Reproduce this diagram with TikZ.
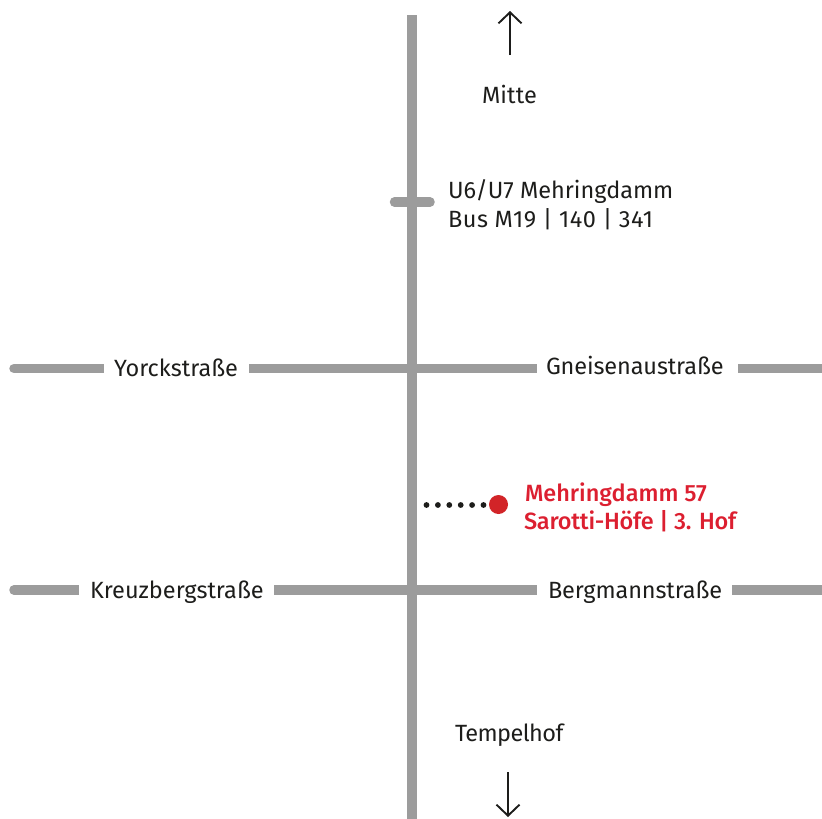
\documentclass[tikz,border=0pt]{standalone}
\usepackage{fontspec}
\setmainfont{Fira Sans}
\newfontfamily\redfont{Fira Sans Medium}
\usetikzlibrary{arrows.meta}
\definecolor{road}{HTML}{9C9C9C}
\definecolor{ink}{HTML}{1D1D1B}
\definecolor{hl}{HTML}{DC1F30}
\definecolor{pin}{HTML}{D22428}
\newcommand{\lsp}[1]{\addfontfeature{LetterSpace=#1}}
\tikzset{
  road/.style={draw=road,line width=9.5pt},
  roadcap/.style={road,line cap=round},
  lbl/.style={anchor=base west,inner sep=0pt,outer sep=0pt,text=ink,font=\fontsize{23.5}{28}\selectfont},
  redlbl/.style={anchor=base west,inner sep=0pt,outer sep=0pt,text=hl,font=\fontsize{23.5}{28}\selectfont\redfont},
  dirarrow/.style={draw=ink,line width=1.9pt,-{Straight Barb[length=11pt,width=23pt,line width=1.9pt]}},
  dotline/.style={draw=ink,line width=5.8pt,line cap=round,dash pattern=on 0pt off 11.4pt},
  pinmark/.style={circle,fill=pin,inner sep=0pt,minimum size=19pt}
}
\begin{document}
\begin{tikzpicture}[x=1pt,y=-1pt]
\useasboundingbox (0,0) rectangle (822,819);
\coordinate (ntop) at (412,15);
\coordinate (nbot) at (412,819);
\coordinate (tl) at (394.5,202);
\coordinate (tr) at (430,202);
\coordinate (y1) at (14,368.5);
\coordinate (y2) at (104,368.5);
\coordinate (y3) at (249,368.5);
\coordinate (y4) at (537,368.5);
\coordinate (y5) at (738,368.5);
\coordinate (y6) at (822,368.5);
\coordinate (k1) at (14,590);
\coordinate (k2) at (79,590);
\coordinate (k3) at (274,590);
\coordinate (k4) at (537,590);
\coordinate (k5) at (732,590);
\coordinate (k6) at (822,590);
\coordinate (au1) at (510,55);
\coordinate (au2) at (510,11);
\coordinate (ad1) at (508,772);
\coordinate (ad2) at (508,817);
\coordinate (d1) at (426.5,505);
\coordinate (d2) at (484,505);
\draw[road] (ntop) -- (nbot);
\draw[roadcap] (tl) -- (tr);
\draw[roadcap] (y1) -- (60,368.5);
\draw[road] (40,368.5) -- (y2);
\draw[road] (y3) -- (y4);
\draw[road] (y5) -- (y6);
\draw[roadcap] (k1) -- (50,590);
\draw[road] (40,590) -- (k2);
\draw[road] (k3) -- (k4);
\draw[road] (k5) -- (k6);
\draw[dirarrow] (au1) -- (au2);
\draw[dirarrow] (ad1) -- (ad2);
\draw[dotline] (d1) -- (d2);
\node[pinmark] (pin) at (498.5,504.5) {};
\node[lbl] (mitte) at (482,103) {\lsp{0.6}Mitte};
\node[lbl] (u6) at (448,198) {U6/U7 Mehringdamm};
\node[lbl] (bus) at (448,227) {\lsp{2.2}Bus M19 | 140 | 341};
\node[lbl] (york) at (114,376) {Yorckstraße};
\node[lbl] (gneis) at (546,374) {\lsp{-0.5}Gneisenaustraße};
\node[lbl] (kreuz) at (90,598) {Kreuzbergstraße};
\node[lbl] (berg) at (548,598) {\lsp{-0.5}Bergmannstraße};
\node[lbl] (tempel) at (455,741) {\lsp{-2.3}Tempelhof};
\node[redlbl] (addr) at (525,501.5) {Mehringdamm 57};
\node[redlbl] (hof) at (524,529) {\lsp{-1}Sarotti-Höfe | 3. Hof};
\end{tikzpicture}
\end{document}
